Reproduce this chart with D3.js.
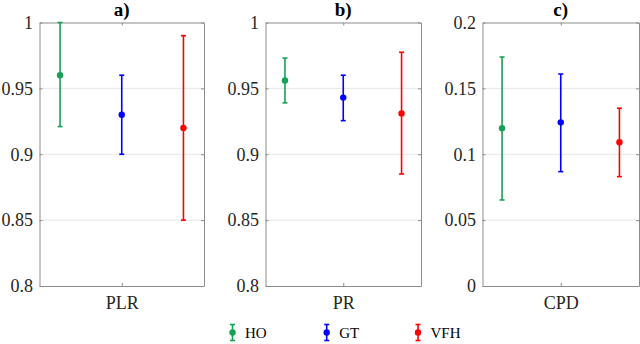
<!DOCTYPE html>
<html>
<head>
<meta charset="utf-8">
<script src="https://cdn.jsdelivr.net/npm/d3@7"></script>
<style>
  html, body { margin: 0; padding: 0; background: #fff; }
  svg { display: block; }
</style>
</head>
<body>
<svg id="chart" width="640" height="344"></svg>
<script>
// ---- data ----
const panelTitles = ["a)", "b)", "c)"];
const categories = ["PLR", "PR", "CPD"];
const seriesNames = ["HO", "GT", "VFH"];
const seriesColors = ["#17a053", "#0000ff", "#ff0000"];

// mean, lower, upper per panel (PLR, PR, CPD)
const hoMean  = [0.960, 0.956, 0.1197];
const hoLow   = [0.921, 0.939, 0.0653];
const hoHigh  = [1.000, 0.973, 0.1738];

const gtMean  = [0.930, 0.943, 0.1242];
const gtLow   = [0.900, 0.9255, 0.0868];
const gtHigh  = [0.960, 0.960, 0.1609];

const vfhMean = [0.920, 0.931, 0.1091];
const vfhLow  = [0.850, 0.885, 0.0830];
const vfhHigh = [0.990, 0.9774, 0.1349];

const yDomains = [[0.8, 1], [0.8, 1], [0, 0.2]];
const yTickValues = [
  [0.8, 0.85, 0.9, 0.95, 1],
  [0.8, 0.85, 0.9, 0.95, 1],
  [0, 0.05, 0.1, 0.15, 0.2]
];
const yTickLabels = [
  ["0.8", "0.85", "0.9", "0.95", "1"],
  ["0.8", "0.85", "0.9", "0.95", "1"],
  ["0", "0.05", "0.1", "0.15", "0.2"]
];
const seriesPositions = [0.7, 1.0, 1.3];

// ---- build ----
(function () {
const means = [hoMean, gtMean, vfhMean];
const lows = [hoLow, gtLow, vfhLow];
const highs = [hoHigh, gtHigh, vfhHigh];

const svg = d3.select("#chart");
const FONT = "Liberation Serif";
const axisColor = "#8c8c8c";
const gridColor = "#e6e6e6";
const textColor = "#262626";

const panelLeft = [39.5, 265.5, 482.5];
const panelRight = [204, 421, 639];
const plotTop = 22.5, plotBottom = 286;

panelTitles.forEach((title, p) => {
  const x = d3.scaleLinear().domain([0.6, 1.4]).range([panelLeft[p], panelRight[p]]);
  const y = d3.scaleLinear().domain(yDomains[p]).range([plotBottom, plotTop]);
  const g = svg.append("g");

  // gridlines
  g.selectAll("line.grid").data(yTickValues[p].slice(1, -1)).enter().append("line")
    .attr("x1", panelLeft[p]).attr("x2", panelRight[p])
    .attr("y1", d => y(d)).attr("y2", d => y(d))
    .attr("stroke", gridColor).attr("stroke-width", 1);

  // left axis
  const leftAxis = d3.axisLeft(y).tickValues(yTickValues[p])
    .tickFormat((d, i) => yTickLabels[p][i]).tickSizeInner(-3).tickSizeOuter(0).tickPadding(6.5);
  const la = g.append("g").attr("transform", `translate(${panelLeft[p]},0)`).call(leftAxis);
  la.attr("font-family", FONT).attr("font-size", 18);
  la.select(".domain").attr("stroke", axisColor);
  la.selectAll(".tick line").attr("stroke", axisColor);
  la.selectAll(".tick text").attr("font-family", FONT).attr("font-size", 18).attr("fill", textColor);

  // right axis
  const rightAxis = d3.axisRight(y).tickValues(yTickValues[p]).tickFormat("").tickSizeInner(-3).tickSizeOuter(0);
  const ra = g.append("g").attr("transform", `translate(${panelRight[p]},0)`).call(rightAxis);
  ra.select(".domain").attr("stroke", axisColor);
  ra.selectAll(".tick line").attr("stroke", axisColor);

  // bottom axis
  const bottomAxis = d3.axisBottom(x).tickValues([1]).tickFormat(() => categories[p])
    .tickSizeInner(-3).tickSizeOuter(0).tickPadding(10);
  const ba = g.append("g").attr("transform", `translate(0,${plotBottom})`).call(bottomAxis);
  ba.attr("font-family", FONT).attr("font-size", 18);
  ba.select(".domain").attr("stroke", axisColor);
  ba.selectAll(".tick line").attr("stroke", axisColor);
  ba.selectAll(".tick text").attr("font-family", FONT).attr("font-size", 18).attr("fill", textColor);

  // top axis
  const topAxis = d3.axisTop(x).tickValues([1]).tickFormat("").tickSizeInner(-3).tickSizeOuter(0);
  const ta = g.append("g").attr("transform", `translate(0,${plotTop})`).call(topAxis);
  ta.select(".domain").attr("stroke", axisColor);
  ta.selectAll(".tick line").attr("stroke", axisColor);

  // title
  g.append("text").attr("x", x(1)).attr("y", 15.5).attr("text-anchor", "middle")
    .attr("font-family", FONT).attr("font-weight", "bold").attr("font-size", 19)
    .attr("fill", "#000").text(title);

  // error bars
  seriesNames.forEach((s, k) => {
    const cx = x(seriesPositions[k]);
    const col = seriesColors[k];
    const eg = g.append("g");
    eg.append("line").attr("x1", cx).attr("x2", cx)
      .attr("y1", y(lows[k][p])).attr("y2", y(highs[k][p]))
      .attr("stroke", col).attr("stroke-width", 1.6);
    [lows[k][p], highs[k][p]].forEach(v => {
      eg.append("line").attr("x1", cx - 2.5).attr("x2", cx + 2.5)
        .attr("y1", y(v)).attr("y2", y(v)).attr("stroke", col).attr("stroke-width", 1.6);
    });
    eg.append("circle").attr("cx", cx).attr("cy", y(means[k][p])).attr("r", 3.2).attr("fill", col);
  });
});

// legend
const legendX = [232.5, 326.7, 418];
const legendY = 332.5;
seriesNames.forEach((s, k) => {
  const col = seriesColors[k];
  const lg = svg.append("g");
  const cx = legendX[k];
  lg.append("line").attr("x1", cx).attr("x2", cx).attr("y1", legendY - 8).attr("y2", legendY + 8)
    .attr("stroke", col).attr("stroke-width", 1.6);
  [legendY - 8, legendY + 8].forEach(yy => {
    lg.append("line").attr("x1", cx - 2.5).attr("x2", cx + 2.5).attr("y1", yy).attr("y2", yy)
      .attr("stroke", col).attr("stroke-width", 1.6);
  });
  lg.append("circle").attr("cx", cx).attr("cy", legendY).attr("r", 3.2).attr("fill", col);
  lg.append("text").attr("x", cx + 12.5).attr("y", legendY + 5.5)
    .attr("font-family", FONT).attr("font-size", 15).attr("fill", "#000").text(s);
});
})();
</script>
</body>
</html>
